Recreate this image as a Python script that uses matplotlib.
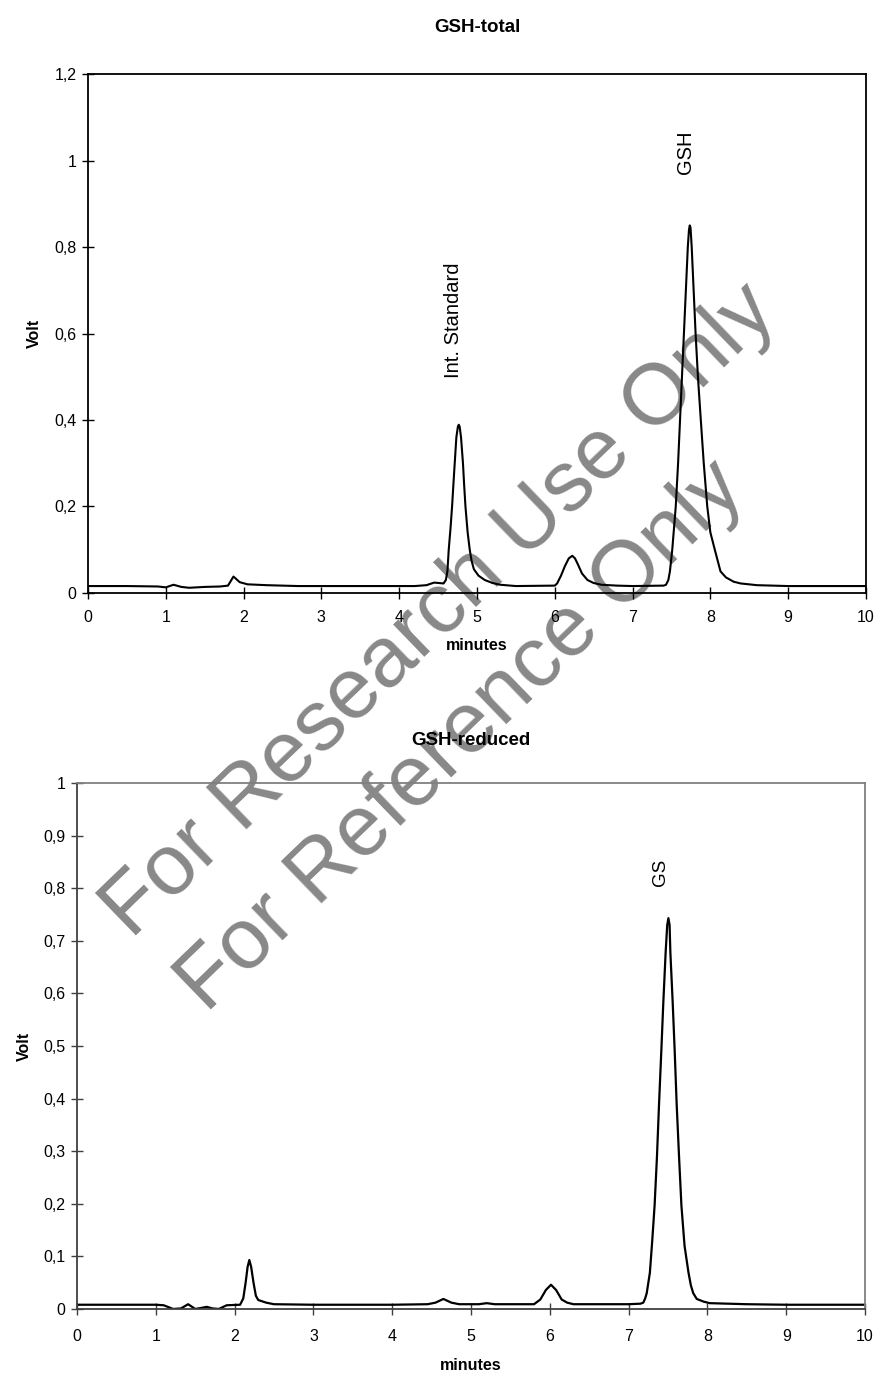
import matplotlib
matplotlib.use("Agg")
import matplotlib.pyplot as plt

plt.rcParams['font.family'] = ['Liberation Sans', 'DejaVu Sans']

# GSH-total chromatogram (minutes, volt)
t_total = [0, 0.5, 0.9, 1.0, 1.1, 1.2, 1.3, 1.5, 1.7, 1.8, 1.87, 1.95, 2.05, 2.3, 2.7,
           3.5, 4.2, 4.35, 4.45, 4.57, 4.6, 4.62, 4.637, 4.66, 4.68, 4.70, 4.714, 4.735,
           4.755, 4.766, 4.777, 4.795, 4.82, 4.835, 4.852, 4.88, 4.907, 4.93, 4.96, 5.02,
           5.1, 5.2, 5.3, 5.5, 6.0, 6.03, 6.08, 6.13, 6.18, 6.225, 6.26, 6.3, 6.35, 6.42,
           6.5, 6.6, 6.8, 7.0, 7.4, 7.43, 7.46, 7.48, 7.51, 7.555, 7.585, 7.61, 7.635,
           7.66, 7.685, 7.71, 7.725, 7.735, 7.745, 7.76, 7.785, 7.81, 7.84, 7.877, 7.915,
           7.96, 8.0, 8.057, 8.13, 8.2, 8.3, 8.39, 8.6, 9.0, 10]
v_total = [0.016, 0.016, 0.015, 0.013, 0.019, 0.014, 0.012, 0.014, 0.015, 0.017, 0.038,
           0.025, 0.020, 0.018, 0.016, 0.016, 0.016, 0.018, 0.024, 0.022, 0.03, 0.05,
           0.1, 0.15, 0.2, 0.26, 0.3, 0.36, 0.385, 0.389, 0.385, 0.36, 0.3, 0.25, 0.2,
           0.14, 0.1, 0.075, 0.055, 0.04, 0.03, 0.023, 0.019, 0.016, 0.017, 0.022, 0.04,
           0.062, 0.08, 0.086, 0.08, 0.065, 0.045, 0.03, 0.023, 0.019, 0.017, 0.016,
           0.017, 0.019, 0.03, 0.05, 0.1, 0.2, 0.3, 0.4, 0.5, 0.6, 0.7, 0.8, 0.84, 0.85,
           0.845, 0.8, 0.7, 0.6, 0.5, 0.4, 0.3, 0.2, 0.14, 0.1, 0.05, 0.036, 0.026, 0.022,
           0.018, 0.016, 0.016]

# GSH-reduced chromatogram
t_red = [0, 0.5, 1.0, 1.1, 1.22, 1.32, 1.41, 1.5, 1.58, 1.645, 1.72, 1.8, 1.9, 2.07,
         2.11, 2.14, 2.165, 2.187, 2.21, 2.24, 2.27, 2.3, 2.4, 2.5, 3.0, 4.0, 4.45, 4.55,
         4.65, 4.75, 4.85, 5.1, 5.2, 5.3, 5.8, 5.88, 5.95, 6.015, 6.08, 6.15, 6.22, 6.3,
         6.6, 7.0, 7.15, 7.187, 7.21, 7.23, 7.27, 7.30, 7.33, 7.36, 7.386, 7.415, 7.44,
         7.47, 7.49, 7.505, 7.52, 7.53, 7.56, 7.585, 7.61, 7.64, 7.67, 7.71, 7.76, 7.79,
         7.82, 7.865, 7.95, 8.03, 8.5, 9.0, 10]
v_red = [0.008, 0.008, 0.008, 0.007, 0.0, 0.001, 0.009, 0.0, 0.002, 0.004, 0.001, 0.0,
         0.007, 0.008, 0.02, 0.05, 0.08, 0.093, 0.08, 0.05, 0.025, 0.017, 0.012, 0.009,
         0.008, 0.008, 0.009, 0.012, 0.019, 0.012, 0.009, 0.009, 0.011, 0.009, 0.009,
         0.018, 0.036, 0.046, 0.036, 0.018, 0.012, 0.009, 0.009, 0.009, 0.01, 0.012,
         0.02, 0.03, 0.069, 0.13, 0.197, 0.29, 0.389, 0.49, 0.581, 0.678, 0.73, 0.743,
         0.73, 0.678, 0.581, 0.49, 0.389, 0.29, 0.197, 0.12, 0.069, 0.045, 0.030, 0.019,
         0.014, 0.011, 0.009, 0.008, 0.008]

x_ticks = list(range(0, 11))
y_ticks_total = [0, 0.2, 0.4, 0.6, 0.8, 1.0, 1.2]
y_labels_total = ['0', '0,2', '0,4', '0,6', '0,8', '1', '1,2']
y_ticks_red = [0, 0.1, 0.2, 0.3, 0.4, 0.5, 0.6, 0.7, 0.8, 0.9, 1.0]
y_labels_red = ['0', '0,1', '0,2', '0,3', '0,4', '0,5', '0,6', '0,7', '0,8', '0,9', '1']

fig = plt.figure(figsize=(8.78, 13.79), dpi=100)

# ---- top panel: GSH-total
ax1 = fig.add_axes([0.1002, 0.5700, 0.8861, 0.3763])
ax1.patch.set_alpha(0)
ax1.plot(t_total, v_total, color='black', lw=1.5)
ax1.set_xlim(0, 10)
ax1.set_ylim(0, 1.2)
ax1.set_xticks(x_ticks)
ax1.set_yticks(y_ticks_total)
ax1.set_yticklabels(y_labels_total)
ax1.tick_params(direction='inout', length=8.6, width=1, labelsize=11.5)
ax1.tick_params(axis='y', pad=4)
ax1.tick_params(axis='x', pad=8)
for s in ax1.spines.values():
    s.set_linewidth(1.3)
ax1.set_title('GSH-total', fontsize=13.5, fontweight='bold', pad=30)
ax1.set_xlabel('minutes', fontsize=11.5, fontweight='bold', labelpad=9)
ax1.set_ylabel('Volt', fontsize=11.5, fontweight='bold', labelpad=9)
ax1.text(4.70, 0.63, 'Int. Standard', rotation=90, ha='center', va='center', fontsize=14.5)
ax1.text(7.68, 1.02, 'GSH', rotation=90, ha='center', va='center', fontsize=14.5)

# ---- bottom panel: GSH-reduced
ax2 = fig.add_axes([0.0877, 0.0508, 0.8975, 0.3814])
ax2.patch.set_alpha(0)
ax2.plot(t_red, v_red, color='black', lw=1.6)
ax2.set_xlim(0, 10)
ax2.set_ylim(0, 1.0)
ax2.set_xticks(x_ticks)
ax2.set_yticks(y_ticks_red)
ax2.set_yticklabels(y_labels_red)
ax2.tick_params(direction='inout', length=8.6, width=1, labelsize=11.5, color='#404040')
ax2.tick_params(axis='y', pad=4)
ax2.tick_params(axis='x', pad=10)
ax2.spines['left'].set_color('#404040')
ax2.spines['bottom'].set_color('#404040')
ax2.spines['top'].set_color('#808080')
ax2.spines['right'].set_color('#808080')
for s in ax2.spines.values():
    s.set_linewidth(1.3)
ax2.set_title('GSH-reduced', fontsize=13.5, fontweight='bold', pad=27)
ax2.set_xlabel('minutes', fontsize=11.5, fontweight='bold', labelpad=10)
ax2.set_ylabel('Volt', fontsize=11.5, fontweight='bold', labelpad=8)
ax2.text(7.40, 0.83, 'GS', rotation=90, ha='center', va='center', fontsize=13.5)

# watermark
fig.text(440 / 878, 1 - 612 / 1379, 'For Research Use Only', rotation=44,
         ha='center', va='center', rotation_mode='anchor', fontsize=62,
         color='#888888', zorder=-1)
fig.text(462 / 878, 1 - 737 / 1379, 'For Reference Only', rotation=44,
         ha='center', va='center', rotation_mode='anchor', fontsize=62,
         color='#888888', zorder=-1)

fig.savefig('out.png', dpi=100, facecolor='white')
